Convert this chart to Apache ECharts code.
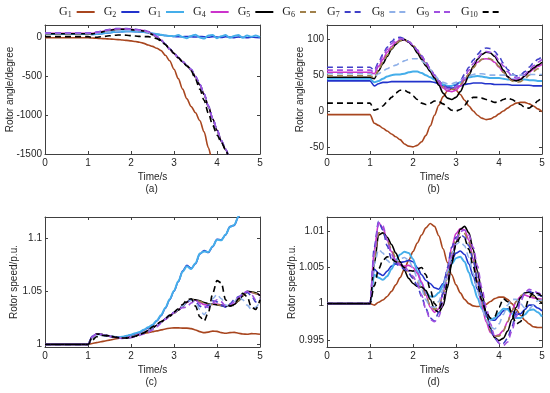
<!DOCTYPE html>
<html><head><meta charset="utf-8">
<script src="https://cdn.jsdelivr.net/npm/echarts@6/dist/echarts.min.js"></script>
<style>html,body{margin:0;padding:0;background:#fff}#c{width:550px;height:393px}</style>
</head><body><div id="c"></div><script>
// time axis (s)
const time = [0,1.0, 1.1,1.2,1.3,1.4,1.5,1.6,1.7,1.8,1.9,2.0, 2.1,2.2,2.3,2.4,2.5,2.6,2.7,2.8,2.9,3.0, 3.1,3.2,3.3,3.4,3.5,3.6,3.7,3.8,3.9,4.0, 4.1,4.2,4.3,4.4,4.5,4.6,4.7,4.8,4.9,5.0];
const seriesNames = ['G1','G2','G3','G4','G5','G6','G7','G8','G9','G10'];
const legendSubs = ['1','2','1','4','5','6','7','8','9','10'];
const xTicks = [0,1,2,3,4,5];
const yTicksA = [-1500,-1000,-500,0];
const yTicksB = [-50,0,50,100];
const yTicksC = [1,1.05,1.1];
const yTicksD = [0.995,1,1.005,1.01];
const N = null;

// (a) rotor angle, unstable case
const aG1 = [-5,-5, -8,-11,-14,-17,-20,-24,-28,-33,-38,-44, -52,-62,-76,-98,-115,-140,-170,-230,-300,-410, -530,-665,-790,-890,-970,-1070,-1215,-1420,-1620,-1850, N,N,N,N,N,N,N,N,N,N];
const aG2 = [42,42, 38,42,48,55,62,68,72,75,76,76, 75,72,68,60,50,40,32,25,18,12, 10,8,12,10,5,12,8,3,10,6, 0,8,4,-2,6,2,-4,4,0,-5];
const aG3 = [45,45, 40,44,50,57,64,70,74,77,78,78, 77,74,70,62,52,42,33,26,20,15, 30,5,-10,20,35,0,-15,25,30,-10, 15,30,-5,20,30,-5,25,10,25,5];
const aG4 = [54,54, 53,62,73,85,96,104,108,109,107,104, 99,94,88,70,40,8,-37,-90,-151,-206, -263,-313,-361,-417,-507,-610,-732,-887,-1047,-1192, -1332,-1442,-1562,-1700,N,N,N,N,N,N];
const aG5 = [47,47, 46,57,68,80,91,99,104,106,104,100, 95,89,82,65,36,4,-40,-92,-152,-207, -262,-312,-362,-420,-510,-612,-735,-890,-1050,-1195, -1335,-1445,-1565,-1700,N,N,N,N,N,N];
const aG6 = [49,49, 47,58,69,81,92,100,105,106,105,101, 96,90,84,67,38,6,-38,-90,-150,-206, -262,-312,-361,-418,-508,-610,-733,-888,-1048,-1193, -1333,-1443,-1563,-1700,N,N,N,N,N,N];
const aG7 = [61,61, 58,68,80,92,103,111,115,115,113,109, 104,98,92,75,45,12,-32,-85,-146,-200, -258,-308,-356,-410,-500,-603,-725,-880,-1040,-1185, -1325,-1435,-1555,-1700,N,N,N,N,N,N];
const aG8 = [52,52, 49,54,60,66,72,78,83,87,90,91, 90,86,80,64,38,8,-36,-88,-149,-204, -261,-311,-359,-414,-505,-608,-730,-885,-1045,-1190, -1330,-1440,-1560,-1700,N,N,N,N,N,N];
const aG9 = [57,57, 55,65,77,89,100,107,111,112,110,106, 101,96,90,73,43,11,-34,-87,-148,-203, -260,-310,-358,-412,-503,-606,-728,-883,-1043,-1188, -1328,-1438,-1558,-1700,N,N,N,N,N,N];
const aG10 = [11,11, 1,3,8,14,21,27,31,31,28,23, 18,13,11,10,2,-15,-45,-90,-148,-205, -262,-315,-368,-430,-540,-665,-810,-975,-1130,-1255, -1350,-1445,-1570,-1700,N,N,N,N,N,N];

// (b) rotor angle, stable case
const bG1 = [-5,-5, -17,-20,-24,-28,-32,-36,-40,-46,-49,-50, -48,-43,-34,-21,-6,8,20,28,31,29, 23,15,7,0,-6,-10,-12,-11,-8,-4, 0,4,8,11,12,12,10,7,3,-1];
const bG2 = [42,42, 35,38,40,40,41,41,41,41,41,41, 41,41,41,41,40,38,35,33,32,33, 35,37,38,39,39,39,38,38,37,37, 37,37,36,36,36,36,36,35,35,35];
const bG3 = [45,45, 40,42,45,48,50,51,51,52,54,55, 55,53,50,47,44,40,37,35,35,37, 40,44,47,48,49,48,47,46,46,46, 45,44,44,44,44,44,43,43,42,42];
const bG4 = [54,54, 52,62,72,82,90,96,99,99,96,91, 84,75,66,56,47,39,32,28,27,29, 35,43,52,61,68,72,73,72,68,61, 54,48,44,43,45,49,54,58,62,65];
const bG5 = [47,47, 45,56,66,76,86,93,98,100,96,90, 81,72,63,55,46,36,25,18,16,19, 27,38,50,62,72,79,82,81,76,67, 57,48,43,42,44,49,55,60,64,68];
const bG6 = [49,49, 46,57,68,78,87,94,98,99,97,92, 85,76,67,58,49,41,34,31,30,32, 37,44,52,60,67,72,74,73,69,62, 54,47,42,40,41,45,50,55,59,62];
const bG7 = [61,61, 57,68,79,89,97,102,103,101,97,92, 85,77,68,59,50,42,36,33,33,36, 42,51,61,71,79,85,88,87,83,76, 67,58,52,49,50,55,61,67,72,76];
const bG8 = [52,52, 48,52,56,59,62,64,67,70,72,73, 73,70,66,58,50,44,40,38,38,40, 43,46,49,51,52,52,51,50,50,50, 50,50,50,50,50,50,51,51,51,51];
const bG9 = [57,57, 54,65,76,86,94,99,101,100,97,92, 85,77,68,59,50,42,35,31,30,33, 39,47,57,66,74,80,83,82,78,71, 63,55,49,46,47,51,57,63,68,72];
const bG10 = [11,11, 1,3,7,13,19,25,29,29,26,21, 16,11,9,11,14,13,10,5,1,0, 2,8,15,19,19,18,16,14,12,13, 16,18,16,13,9,5,4,8,14,20];

// (c) rotor speed, unstable case
const cG1 = [1,1, 1.0008,1.0016,1.0024,1.0032,1.004,1.0048,1.0056,1.0063,1.007,1.0077, 1.0085,1.0093,1.0102,1.011,1.0118,1.0127,1.0136,1.0145,1.0152,1.0155, 1.0155,1.0153,1.0153,1.0148,1.0135,1.012,1.011,1.0115,1.0125,1.0122, 1.011,1.0105,1.011,1.0113,1.0105,1.0097,1.0095,1.0101,1.01,1.0095];
const cG2 = [1,1, 1.0075,1.0098,1.0095,1.0085,1.0078,1.0072,1.0068,1.007,1.0078,1.0088, 1.01,1.0112,1.0135,1.0155,1.018,1.022,1.027,1.034,1.042,1.05, 1.059,1.069,1.0745,1.0715,1.076,1.085,1.0885,1.0865,1.092,1.099, 1.0985,1.103,1.111,1.112,1.12,1.128,1.135,N,N,N];
const cG3 = [1,1, 1.007,1.0095,1.0093,1.0084,1.0077,1.0071,1.0068,1.0071,1.008,1.0091, 1.0104,1.0117,1.0138,1.016,1.0185,1.0225,1.0277,1.0345,1.0425,1.0505, 1.0595,1.0685,1.0735,1.071,1.0765,1.0855,1.0875,1.087,1.0925,1.0985, 1.098,1.1035,1.1105,1.1125,1.1205,1.1285,1.1355,N,N,N];
const cG4 = [1,1, 1.0072,1.0096,1.0094,1.0086,1.0078,1.0071,1.0064,1.006,1.0062,1.0069, 1.008,1.0096,1.0111,1.013,1.0154,1.018,1.021,1.024,1.0272,1.03, 1.0325,1.036,1.0395,1.0418,1.0415,1.0395,1.0375,1.037,1.0378,1.038, 1.0372,1.036,1.0362,1.038,1.042,1.0465,1.0495,1.049,1.048,1.0465];
const cG5 = [1,1, 1.0068,1.0097,1.0095,1.0087,1.0079,1.0071,1.0063,1.0057,1.0058,1.0066, 1.0077,1.0093,1.011,1.013,1.0155,1.018,1.021,1.0238,1.0265,1.0295, 1.0322,1.0355,1.04,1.0425,1.042,1.041,1.0395,1.0383,1.0378,1.0372, 1.0365,1.036,1.0362,1.0375,1.041,1.0455,1.05,1.0495,1.0485,1.046];
const cG6 = [1,1, 1.0065,1.0094,1.0094,1.0087,1.008,1.0072,1.0065,1.006,1.0061,1.0068, 1.0078,1.0094,1.011,1.0128,1.0152,1.0178,1.0207,1.0237,1.0267,1.0296, 1.0323,1.0357,1.0398,1.042,1.0418,1.0405,1.039,1.0378,1.0376,1.0374, 1.0368,1.0362,1.0364,1.0378,1.0412,1.0458,1.0492,1.0492,1.0478,1.0462];
const cG7 = [1,1, 1.007,1.0096,1.0093,1.0085,1.0077,1.007,1.0063,1.0059,1.0062,1.007, 1.0082,1.0097,1.0112,1.013,1.0153,1.018,1.0212,1.0243,1.0274,1.0302, 1.0328,1.0362,1.0398,1.042,1.04,1.036,1.034,1.037,1.041,1.04, 1.037,1.035,1.038,1.042,1.045,1.047,1.049,1.046,1.04,1.043];
const cG8 = [1,1, 1.0066,1.0092,1.0092,1.0085,1.0078,1.0072,1.0066,1.0062,1.0064,1.0071, 1.0082,1.0096,1.0112,1.0132,1.0156,1.0182,1.0212,1.0242,1.0272,1.03, 1.0326,1.036,1.0395,1.0415,1.04,1.033,1.028,1.033,1.043,1.047, 1.043,1.037,1.036,1.04,1.045,1.042,1.037,1.033,1.035,1.04];
const cG9 = [1,1, 1.0071,1.0098,1.0094,1.0084,1.0075,1.0067,1.006,1.0056,1.0058,1.0064, 1.0072,1.0085,1.0098,1.0113,1.0135,1.0165,1.02,1.0235,1.0268,1.0298, 1.0328,1.0345,1.035,1.039,1.042,1.038,1.036,1.035,1.039,1.042, 1.04,1.036,1.037,1.04,1.044,1.048,1.05,1.047,1.042,1.044];
const cG10 = [1,1, 1.004,1.0072,1.0085,1.0082,1.0076,1.007,1.0064,1.006,1.0061,1.0067, 1.0078,1.0092,1.0108,1.0135,1.0165,1.019,1.0215,1.0245,1.0275,1.0305, 1.0335,1.0375,1.042,1.043,1.036,1.026,1.022,1.03,1.048,1.06, 1.058,1.042,1.036,1.037,1.043,1.048,1.045,1.035,1.033,1.042];

// (d) rotor speed, stable case
const dG1 = [1,1, 0.9998,1.0002,1.0005,1.001,1.0017,1.0026,1.0036,1.0048,1.006,1.0072, 1.0084,1.0095,1.0105,1.0111,1.0107,1.0094,1.0076,1.0057,1.004,1.0026, 1.0015,1.0006,1.0,0.9997,0.9996,0.9997,0.9999,1.0003,1.0007,1.0009, 1.0009,1.0006,1.0,0.9992,0.9984,0.9977,0.9972,0.9968,0.9967,0.9967];
const dG2 = [1,1, 1.0048,1.0042,1.0039,1.0045,1.0052,1.0055,1.0057,1.0058,1.006,1.0058, 1.005,1.004,1.0032,1.0028,1.0022,1.002,1.0028,1.0045,1.006,1.007, 1.0073,1.0068,1.0055,1.0038,1.002,1.0003,0.9988,0.9978,0.9977,0.9983, 0.999,0.9993,0.999,0.9985,0.9986,0.9992,0.9998,0.9998,0.9994,0.999];
const dG3 = [1,1, 1.004,1.0036,1.0033,1.0038,1.0048,1.006,1.0068,1.0072,1.007,1.0062, 1.0045,1.0028,1.0015,1.001,1.001,1.0015,1.0025,1.004,1.0055,1.0063, 1.0065,1.0058,1.0043,1.0025,1.0008,0.9993,0.9982,0.9978,0.998,0.9987, 0.9993,0.9992,0.9986,0.998,0.998,0.9985,0.9991,0.9992,0.9988,0.9982];
const dG4 = [1,1, 1.0075,1.0112,1.0105,1.0088,1.0072,1.006,1.0053,1.0052,1.0053,1.005, 1.0042,1.003,1.0012,0.9995,0.9988,0.9993,1.0015,1.0048,1.0078,1.0097, 1.0104,1.0102,1.0088,1.0062,1.003,0.9998,0.9975,0.996,0.9955,0.9957, 0.9963,0.9975,0.999,1.0003,1.001,1.0012,1.001,1.0008,1.0007,1.0006];
const dG5 = [1,1, 1.0055,1.0095,1.0098,1.0092,1.0082,1.007,1.0058,1.0046,1.0035,1.0028, 1.0024,1.0023,1.0018,1.0006,0.9992,0.9988,0.9997,1.0022,1.0055,1.0085, 1.0103,1.0107,1.0098,1.0075,1.0045,1.0015,0.9988,0.9966,0.9953,0.9949, 0.9952,0.9962,0.9978,0.9995,1.0008,1.0015,1.0016,1.0012,1.0006,1.0];
const dG6 = [1,1, 1.006,1.0098,1.0098,1.0088,1.0075,1.0063,1.0055,1.0048,1.0042,1.0036, 1.003,1.0022,1.001,0.9998,0.9992,0.9996,1.0013,1.004,1.007,1.009, 1.0098,1.0097,1.0085,1.0062,1.0033,1.0005,0.998,0.9962,0.9955,0.9955, 0.9962,0.9975,0.999,1.0003,1.0011,1.0014,1.0013,1.001,1.0006,1.0003];
const dG7 = [1,1, 1.0078,1.0114,1.0102,1.008,1.0062,1.0055,1.0052,1.0048,1.0042,1.0035, 1.0025,1.001,0.9993,0.998,0.9976,0.9988,1.0015,1.005,1.0078,1.0092, 1.0096,1.0092,1.008,1.006,1.0035,1.001,0.9985,0.9965,0.9952,0.9946, 0.9945,0.9952,0.9968,0.9988,1.0005,1.0015,1.0017,1.0015,1.0012,1.001];
const dG8 = [1,1, 1.0055,1.0075,1.007,1.006,1.0055,1.0058,1.0062,1.0064,1.006,1.005, 1.0035,1.002,1.0005,0.9996,0.9995,1.0003,1.002,1.0045,1.0068,1.0082, 1.0086,1.008,1.0064,1.0042,1.0018,0.9995,0.9978,0.9968,0.9965,0.9972, 0.9985,0.9998,1.0006,1.0006,1.0,0.9994,0.9993,0.9998,1.0004,1.0005];
const dG9 = [1,1, 1.007,1.0112,1.0108,1.0088,1.0068,1.0058,1.0055,1.0052,1.0045,1.0038, 1.0028,1.0012,0.9992,0.9978,0.9975,0.9982,1.0002,1.0032,1.0065,1.0088, 1.01,1.0102,1.0095,1.0078,1.0052,1.0022,0.9995,0.9972,0.9955,0.9945, 0.9942,0.9947,0.9962,0.9982,1.0002,1.0015,1.002,1.0018,1.0015,1.0012];
const dG10 = [1,1, 1.0025,1.0048,1.006,1.0065,1.0062,1.0058,1.0055,1.005,1.0046,1.0045, 1.0048,1.005,1.004,1.002,1.0,0.9993,1.0002,1.0028,1.0058,1.0082, 1.0092,1.009,1.0075,1.0052,1.0027,1.0005,0.9988,0.998,0.9982,0.9995, 1.0007,1.0003,0.9985,0.9972,0.9975,0.9992,1.0008,1.0016,1.0014,1.001];

const panels = [
  [aG1,aG2,aG3,aG4,aG5,aG6,aG7,aG8,aG9,aG10],
  [bG1,bG2,bG3,bG4,bG5,bG6,bG7,bG8,bG9,bG10],
  [cG1,cG2,cG3,cG4,cG5,cG6,cG7,cG8,cG9,cG10],
  [dG1,dG2,dG3,dG4,dG5,dG6,dG7,dG8,dG9,dG10]
];

const colors = ['#A8461F','#2233CC','#45AEEA','#CC33CC','#000000','#A0804A','#4040C8','#8FB0E8','#A050E0','#000000'];
const dashed = [false,false,false,false,false,true,true,true,true,true];
const widths = [1.6,1.6,2,1.6,1.6,1.6,1.6,1.6,1.6,1.6];

const FONT = 'Liberation Sans, Arial, sans-serif';
const grids = [
  {left:45, top:25, width:215, height:129},
  {left:327, top:25, width:215, height:129},
  {left:45, top:217, width:215, height:130},
  {left:327, top:217, width:215, height:130}
];
const yRanges = [[-1500,160],[-60,120],[0.9975,1.12],[0.994,1.012]];
const yTicks = [yTicksA,yTicksB,yTicksC,yTicksD];
const yNames = ['Rotor angle/degree','Rotor angle/degree','Rotor speed/p.u.','Rotor speed/p.u.'];
const yNameGaps = [30,22,26,30];
const xNameGaps = [18,18,18,18];
const panelLabels = ['(a)','(b)','(c)','(d)'];

const axisCol = '#404040';
const txtCol = '#262626';
const fmt = v => String(v);
const xAxes = [], yAxes = [], series = [];
grids.forEach((g,i)=>{
  xAxes.push({gridIndex:i, type:'value', min:0, max:5, interval:1, position:'bottom',
    axisLine:{onZero:false, lineStyle:{color:axisCol, width:1}},
    axisTick:{inside:true, length:3, lineStyle:{color:axisCol}, customValues: xTicks},
    axisLabel:{color:txtCol, fontSize:10, fontFamily:FONT, margin:4, customValues: xTicks, formatter: fmt},
    splitLine:{show:false},
    name:'Time/s', nameLocation:'middle', nameGap:xNameGaps[i], nameMoveOverlap:false,
    nameTextStyle:{color:txtCol, fontSize:10, fontFamily:FONT}});
  yAxes.push({gridIndex:i, type:'value', min:yRanges[i][0], max:yRanges[i][1], position:'left',
    axisLine:{onZero:false, lineStyle:{color:axisCol, width:1}},
    axisTick:{inside:true, length:3, lineStyle:{color:axisCol}, customValues: yTicks[i]},
    axisLabel:{color:txtCol, fontSize:10, fontFamily:FONT, margin:3, customValues: yTicks[i], formatter: fmt},
    splitLine:{show:false},
    name:yNames[i], nameLocation:'middle', nameGap:yNameGaps[i], nameMoveOverlap:false,
    nameTextStyle:{color:txtCol, fontSize:10, fontFamily:FONT}});
});
grids.forEach((g,i)=>{
  xAxes.push({gridIndex:i, type:'value', min:0, max:5, position:'top',
    axisLine:{onZero:false, lineStyle:{color:axisCol, width:1}},
    axisTick:{inside:true, length:3, lineStyle:{color:axisCol}, customValues: xTicks},
    axisLabel:{show:false}, splitLine:{show:false}});
  yAxes.push({gridIndex:i, type:'value', min:yRanges[i][0], max:yRanges[i][1], position:'right',
    axisLine:{onZero:false, lineStyle:{color:axisCol, width:1}},
    axisTick:{inside:true, length:3, lineStyle:{color:axisCol}, customValues: yTicks[i]},
    axisLabel:{show:false}, splitLine:{show:false}});
});

panels.forEach((arrs,p)=>{
  arrs.forEach((arr,k)=>{
    series.push({
      name: seriesNames[k], type:'line', xAxisIndex:p, yAxisIndex:p,
      data: time.map((t,j)=>[t, arr[j]]),
      showSymbol:false, symbol:'none', smooth:0.3, smoothMonotone:'x', clip:true,
      connectNulls:false, animation:false,
      lineStyle:{color:colors[k], width:widths[k], type: dashed[k] ? [6,4] : 'solid'},
      itemStyle:{color:colors[k]}
    });
  });
});

const graphic = panelLabels.map((t,i)=>({
  type:'text', left: grids[i].left + grids[i].width/2 - 7, top: grids[i].top + grids[i].height + 30,
  style:{text:t, fill:txtCol, font:'10px ' + FONT}
}));

const chart = echarts.init(document.getElementById('c'), null, {renderer:'canvas'});
chart.setOption({
  animation:false,
  backgroundColor:'#fff',
  grid: grids,
  xAxis: xAxes,
  yAxis: yAxes,
  legend: {
    data: seriesNames, top: 1, left: 54, itemWidth: 18, itemHeight: 8, itemGap: 8, align:'right',
    itemStyle:{opacity:0, borderWidth:0},
    formatter: name => '{g|G}{s|' + legendSubs[seriesNames.indexOf(name)] + '}',
    textStyle:{ color:'#222', rich:{
      g:{fontSize:12, fontFamily:'Liberation Serif, Times New Roman, serif', color:'#222'},
      s:{fontSize:8, fontFamily:'Liberation Serif, Times New Roman, serif', color:'#222', verticalAlign:'bottom', padding:[5,0,0,0]}
    }}
  },
  graphic: graphic,
  series: series
});
</script></body></html>
